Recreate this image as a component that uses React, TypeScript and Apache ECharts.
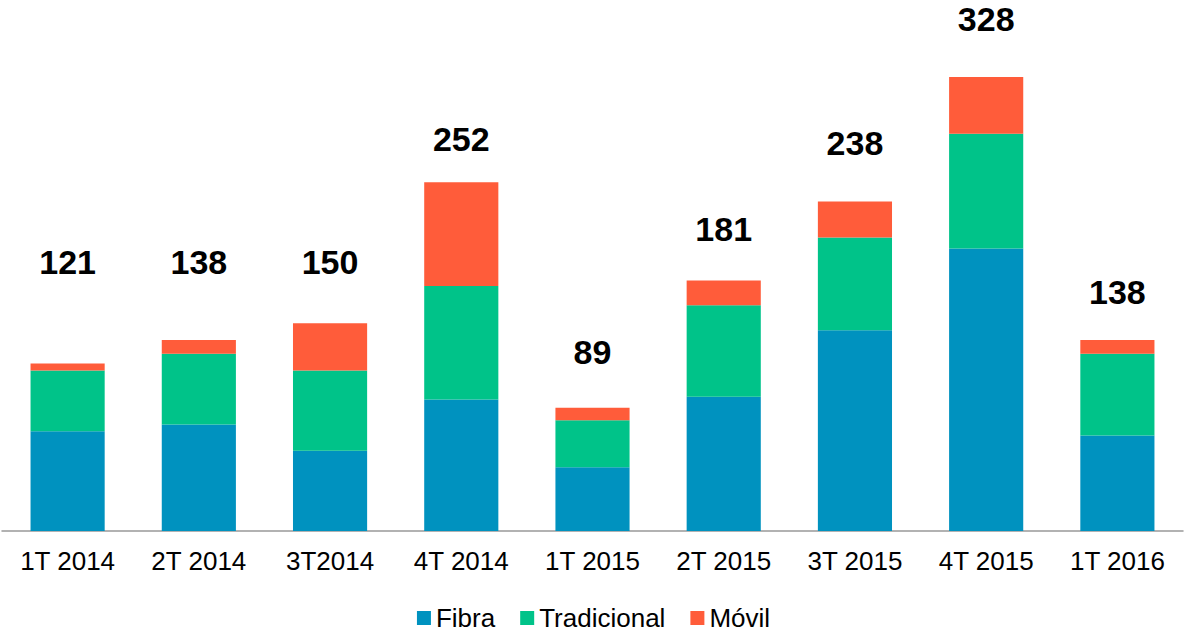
import React, { useEffect, useRef } from "react";
import * as echarts from "echarts";

const categories = ["1T 2014", "2T 2014", "3T2014", "4T 2014", "1T 2015", "2T 2015", "3T 2015", "4T 2015", "1T 2016"];
const fibra = [72, 77, 58, 95, 46, 97, 145, 204, 69];
const tradicional = [44, 51, 58, 82, 34, 66, 67, 83, 59];
const movil = [5, 10, 34, 75, 9, 18, 26, 41, 10];
const totals = [121, 138, 150, 252, 89, 181, 238, 328, 138];

// label lift above the bar top (px), style only
const labelLift = [85, 61, 44, 26, 39, 34, 42, 41, 31];

const FONT = "'Liberation Sans', Arial, sans-serif";

export default function App() {
  const ref = useRef<HTMLDivElement>(null);
  useEffect(() => {
    if (!ref.current) return;
    const chart = echarts.init(ref.current, null, { renderer: "svg" });
    chart.setOption({
      animation: false,
      textStyle: { fontFamily: FONT },
      grid: { left: 2, right: 4, top: 5, bottom: 103, containLabel: false },
      legend: {
        data: ["Fibra", "Tradicional", "Móvil"],
        top: 605,
        left: "center",
        padding: 0,
        icon: "rect",
        itemWidth: 14,
        itemHeight: 14,
        itemGap: 25,
        textStyle: { fontSize: 26, lineHeight: 26, color: "#000", fontFamily: FONT },
      },
      xAxis: {
        type: "category",
        data: categories,
        axisLine: { lineStyle: { color: "#999", width: 1.5 } },
        axisTick: { show: false },
        axisLabel: { fontSize: 26, color: "#000", margin: 17, fontFamily: FONT, interval: 0 },
      },
      yAxis: {
        type: "value",
        min: 0,
        max: 380,
        show: false,
        splitLine: { show: false },
      },
      series: [
        {
          name: "Fibra",
          type: "bar",
          stack: "t",
          barCategoryGap: "43.5%",
          itemStyle: { color: "#0092BF" },
          data: fibra,
        },
        {
          name: "Tradicional",
          type: "bar",
          stack: "t",
          itemStyle: { color: "#00C389" },
          data: tradicional,
        },
        {
          name: "Móvil",
          type: "bar",
          stack: "t",
          itemStyle: { color: "#FF5C3A" },
          data: movil.map((v, i) => ({
            value: v,
            label: {
              show: true,
              position: "top",
              distance: 0,
              offset: [0, -labelLift[i]],
              formatter: () => String(totals[i]),
              fontSize: 34,
              lineHeight: 34,
              fontWeight: "bold",
              color: "#000",
              fontFamily: FONT,
            },
          })),
        },
      ],
    });
    return () => chart.dispose();
  }, []);
  return <div ref={ref} style={{ width: 1187, height: 634, position: "absolute", left: 0, top: 0 }} />;
}
